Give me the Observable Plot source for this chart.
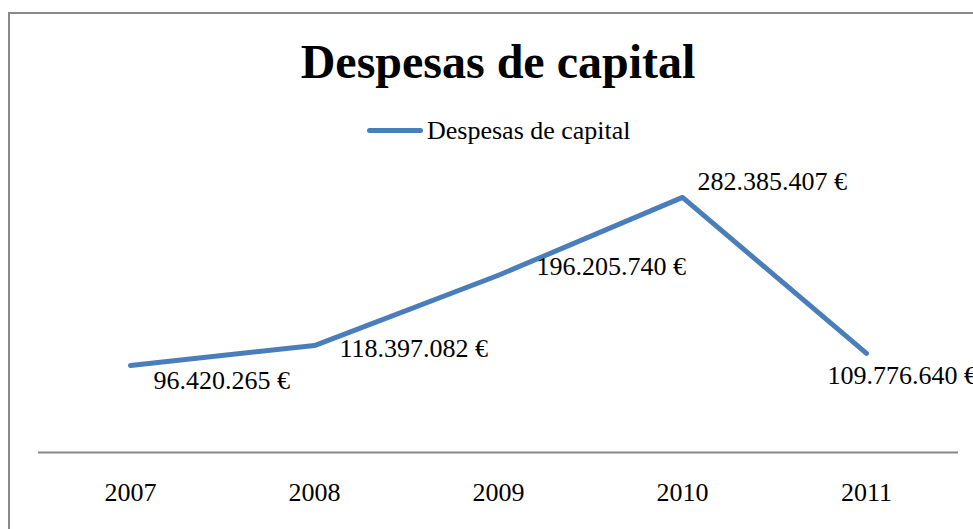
<!DOCTYPE html>
<html>
<head>
<meta charset="utf-8">
<script src="https://cdn.jsdelivr.net/npm/d3@7"></script>
<script src="https://cdn.jsdelivr.net/npm/@observablehq/plot@0.6"></script>
<style>
  html, body { margin: 0; padding: 0; background: #fff; width: 973px; height: 529px; overflow: hidden; }
  body { position: relative; font-family: "Liberation Serif", "Times New Roman", serif; color: #000; }
  #frame { position: absolute; left: 8px; top: 12px; width: 1100px; height: 600px;
           border-left: 2px solid #8a8a8a; border-top: 2px solid #8a8a8a; box-sizing: border-box; }
  #title { position: absolute; left: 0; top: 38px; width: 996px; text-align: center;
           font-weight: bold; font-size: 48px; line-height: 48px; white-space: nowrap; }
  #legend { position: absolute; left: 367px; top: 118px; display: flex; align-items: center;
            font-size: 26px; line-height: 26px; white-space: nowrap; }
  #legend .sw { width: 56px; height: 5px; border-radius: 3px; background: #4A7EBB; margin-right: 4px; margin-top: -2px; }
  #chart { position: absolute; left: 0; top: 150px; }
</style>
</head>
<body>
<div id="frame"></div>
<div id="title">Despesas de capital</div>
<div id="legend"><span class="sw"></span><span>Despesas de capital</span></div>
<div id="chart"></div>
<script>
// Data
const years = ["2007", "2008", "2009", "2010", "2011"];
const values = [96420265, 118397082, 196205740, 282385407, 109776640];
const labels = ["96.420.265 €", "118.397.082 €", "196.205.740 €", "282.385.407 €", "109.776.640 €"];

// Layout: label nudges (pixels) as placed in the original
const labelDx = [23, 25, 38, 15, -39];
const labelDy = [15, 3, -9, -16, 22];

const rows = years.map((y, i) => ({ year: y, value: values[i], label: labels[i], i }));

const color = "#4A7EBB";
const labelMarks = rows.map(r => Plot.text([r], {
  x: "year", y: "value", text: "label",
  textAnchor: "start", lineAnchor: "middle",
  dx: labelDx[r.i], dy: labelDy[r.i],
  fontSize: 26, fill: "#000"
}));

const chart = Plot.plot({
  width: 973,
  height: 379,
  marginLeft: 38,
  marginRight: 15,
  marginTop: 31,
  marginBottom: 77,
  style: { fontFamily: "'Liberation Serif', 'Times New Roman', serif", background: "transparent", overflow: "visible" },
  x: { type: "point", domain: years, padding: 0.5 },
  y: { domain: [0, 300000000], axis: null },
  marks: [
    Plot.ruleY([0], { stroke: "#868686", strokeWidth: 2 }),
    Plot.axisX({ tickSize: 0, tickPadding: 30, fontSize: 26, fill: "#000", label: null }),
    Plot.lineY(rows, { x: "year", y: "value", stroke: color, strokeWidth: 5, strokeLinecap: "round", strokeLinejoin: "round" }),
    ...labelMarks
  ]
});
document.getElementById("chart").appendChild(chart);
</script>
</body>
</html>
